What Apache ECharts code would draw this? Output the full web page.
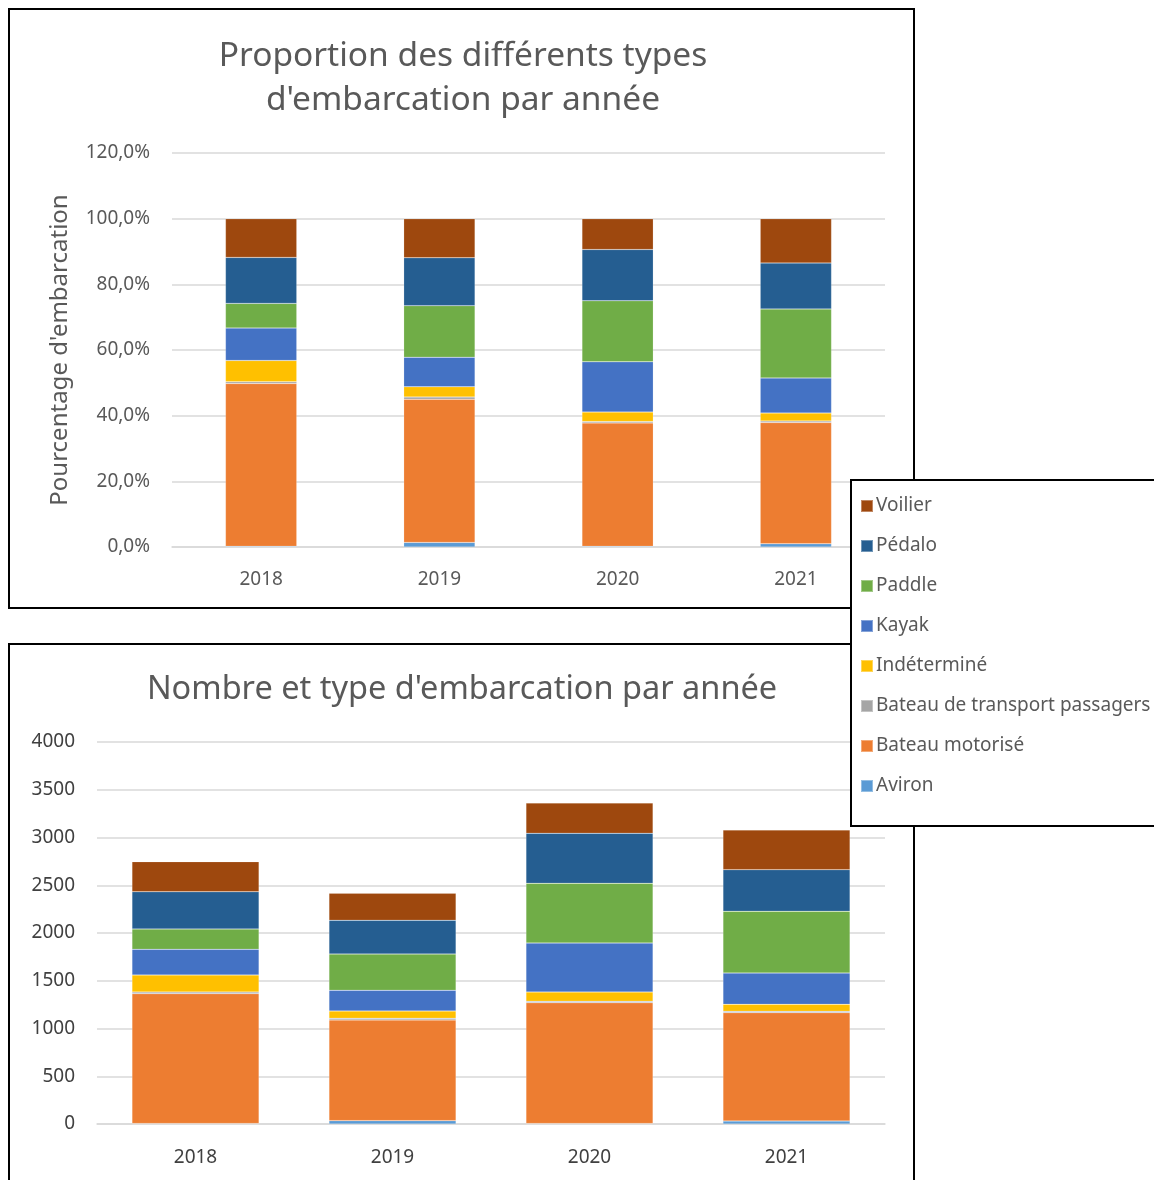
<!DOCTYPE html>
<html><head><meta charset="utf-8">
<script src="https://cdn.jsdelivr.net/npm/echarts@6/dist/echarts.min.js"></script>
<style>html,body{margin:0;padding:0;background:#fff}#c{width:1154px;height:1180px}</style>
</head><body><div id="c"></div>
<script>
const years = ['2018', '2019', '2020', '2021'];
const seriesNames = ['Aviron', 'Bateau motorisé', 'Bateau de transport passagers', 'Indéterminé', 'Kayak', 'Paddle', 'Pédalo', 'Voilier'];
const legendOrder = ['Voilier', 'Pédalo', 'Paddle', 'Kayak', 'Indéterminé', 'Bateau de transport passagers', 'Bateau motorisé', 'Aviron'];
const colors = ['#5B9BD5', '#ED7D31', '#A5A5A5', '#FFC000', '#4472C4', '#70AD47', '#255E91', '#9E480E'];
// Percentages (top chart), per series, per year
const pctAviron    = [0.2, 1.4, 0.2, 1.0];
const pctMotorise  = [49.6, 43.6, 37.6, 36.9];
const pctTransport = [0.5, 0.7, 0.4, 0.5];
const pctIndet     = [6.5, 3.1, 2.9, 2.4];
const pctKayak     = [9.9, 9.0, 15.3, 10.7];
const pctPaddle    = [7.5, 15.7, 18.6, 21.0];
const pctPedalo    = [14.0, 14.6, 15.6, 14.0];
const pctVoilier   = [11.8, 11.9, 9.4, 13.5];
// Counts (bottom chart)
const nAviron    = [5, 35, 5, 31];
const nMotorise  = [1360, 1054, 1265, 1135];
const nTransport = [17, 18, 15, 14];
const nIndet     = [178, 76, 97, 73];
const nKayak     = [269, 217, 513, 328];
const nPaddle    = [213, 380, 625, 646];
const nPedalo    = [390, 353, 524, 436];
const nVoilier   = [315, 283, 317, 416];
const pctTicks = [0, 20, 40, 60, 80, 100, 120];
const countTicks = [0, 500, 1000, 1500, 2000, 2500, 3000, 3500, 4000];

const pctData = [pctAviron, pctMotorise, pctTransport, pctIndet, pctKayak, pctPaddle, pctPedalo, pctVoilier];
const nData = [nAviron, nMotorise, nTransport, nIndet, nKayak, nPaddle, nPedalo, nVoilier];

const FONT = 'Noto Sans';
const GREY = '#595959';
const chart = echarts.init(document.getElementById('c'));
const series = [];
seriesNames.forEach((name, i) => {
  series.push({ name, type: 'bar', stack: 'p', xAxisIndex: 0, yAxisIndex: 0, data: pctData[i], barWidth: '40%',
    itemStyle: { color: colors[i], borderColor: 'rgba(255,255,255,0.35)', borderWidth: 0.5 } });
});
seriesNames.forEach((name, i) => {
  series.push({ name, type: 'bar', stack: 'n', xAxisIndex: 1, yAxisIndex: 1, data: nData[i], barWidth: '64.5%',
    itemStyle: { color: colors[i], borderColor: 'rgba(255,255,255,0.35)', borderWidth: 0.5 } });
});
chart.setOption({
  animation: false,
  textStyle: { fontFamily: FONT },
  title: [
    { text: "Proportion des différents types\nd'embarcation par année", left: 458, top: 29, textAlign: 'center',
      textStyle: { fontFamily: FONT, fontWeight: 'normal', fontSize: 33.5, color: GREY, lineHeight: 44 } },
    { text: "Nombre et type d'embarcation par année", left: 457, top: 668, textAlign: 'center',
      textStyle: { fontFamily: FONT, fontWeight: 'normal', fontSize: 32.5, color: GREY } }
  ],
  grid: [
    { left: 172, right: 269, top: 153, height: 394 },
    { left: 97, right: 269, top: 742, height: 382 }
  ],
  xAxis: [
    { type: 'category', gridIndex: 0, data: years, axisTick: { show: false },
      axisLine: { lineStyle: { color: '#D9D9D9', width: 1.5 } },
      axisLabel: { color: GREY, fontSize: 19, margin: 23, fontFamily: FONT } },
    { type: 'category', gridIndex: 1, data: years, axisTick: { show: false },
      axisLine: { lineStyle: { color: '#D9D9D9', width: 1.5 } },
      axisLabel: { color: '#404040', fontSize: 19, margin: 24, fontFamily: FONT } }
  ],
  yAxis: [
    { type: 'value', gridIndex: 0, min: pctTicks[0], max: pctTicks[pctTicks.length - 1], interval: 20,
      name: "Pourcentage d'embarcation", nameLocation: 'middle', nameGap: 100, nameRotate: 90,
      nameTextStyle: { color: GREY, fontSize: 24, fontFamily: FONT },
      axisLine: { show: false }, axisTick: { show: false },
      splitLine: { lineStyle: { color: '#D9D9D9', width: 1.5 } },
      axisLabel: { color: GREY, fontSize: 19, margin: 22, fontFamily: FONT,
        formatter: v => v.toFixed(1).replace('.', ',') + '%' } },
    { type: 'value', gridIndex: 1, min: countTicks[0], max: countTicks[countTicks.length - 1], interval: 500,
      axisLine: { show: false }, axisTick: { show: false },
      splitLine: { lineStyle: { color: '#D9D9D9', width: 1.5 } },
      axisLabel: { color: '#404040', fontSize: 19, margin: 22, fontFamily: FONT, formatter: v => String(v) } }
  ],
  legend: {
    data: legendOrder, orient: 'vertical', left: 851, top: 480,
    itemWidth: 12, itemHeight: 12, itemGap: 20, icon: 'rect',
    padding: [16, 40, 30, 9],
    backgroundColor: '#fff', borderColor: '#000', borderWidth: 2, borderRadius: 0,
    textStyle: { color: GREY, fontSize: 19, lineHeight: 20, fontFamily: FONT, padding: [0, 0, 0, -2] },
    z: 20
  },
  graphic: [
    { type: 'rect', shape: { x: 9, y: 9, width: 905, height: 599 }, style: { fill: 'none', stroke: '#000', lineWidth: 2 }, z: -1 },
    { type: 'rect', shape: { x: 9, y: 644, width: 905, height: 560 }, style: { fill: 'none', stroke: '#000', lineWidth: 2 }, z: -1 }
  ],
  series
});
</script></body></html>
